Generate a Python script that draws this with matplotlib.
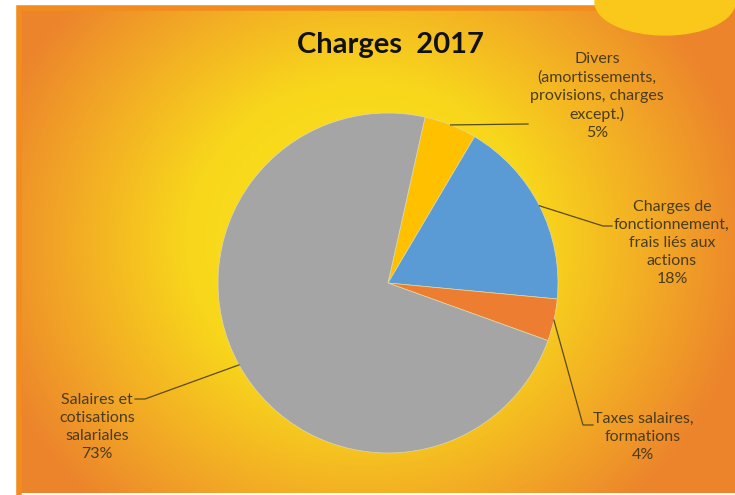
import matplotlib.pyplot as plt
import numpy as np
from matplotlib.colors import LinearSegmentedColormap
from matplotlib.patches import Ellipse

labels = ['Divers\n(amortissements,\nprovisions, charges\nexcept.)',
          'Charges de\nfonctionnement,\nfrais liés aux\nactions',
          'Taxes salaires,\nformations',
          'Salaires et\ncotisations\nsalariales']
values = [5, 18, 4, 73]
colors = ['#FFC000', '#5B9BD5', '#ED7D31', '#A5A5A5']
title = 'Charges  2017'

# label centre positions (px, y measured from the top) and elbow of the leader line
label_pos = [(597, 96), (672, 243), (643, 437), (97, 427)]
elbows = [[(528, 124)], [(603, 226), (612, 226)], [(583, 425), (593, 425)], [(145, 399), (135, 399)]]

W, H = 735, 495
txt_col = '#4A3C1C'

fig = plt.figure(figsize=(7.35, 4.95), dpi=100)
fig.patch.set_facecolor('white')
ax = fig.add_axes([0, 0, 1, 1])

# radial yellow -> orange background
yy, xx = np.mgrid[0:487, 0:718]
r = np.sqrt(((xx - 345) / 390.0) ** 2 + ((yy - 235) / 360.0) ** 2)
cmap = LinearSegmentedColormap.from_list('bg', [(0, '#FAE81A'), (0.45, '#F8D61C'),
                                                (0.75, '#F2AA25'), (1.0, '#EC842C')])
ax.imshow(np.clip(r, 0, 1), cmap=cmap, vmin=0, vmax=1, extent=(17, W, 2, H - 6),
          origin='upper', zorder=0, interpolation='bilinear')
# brighter orange strip along the top and left edges
ax.plot([19, 19, W], [2, H - 8, H - 8], color='#F38C1E', lw=4, zorder=0.5,
        solid_joinstyle='miter')

# decorative blob at top right
ax.add_patch(Ellipse((665, H - 2), 140, 66, color='#F9C81A', zorder=1))

cx, cy, rad = 388, H - 283, 170
wedges, _ = ax.pie(values, colors=colors, startangle=77.4, counterclock=False,
                   center=(cx, cy), radius=rad, frame=True,
                   wedgeprops=dict(edgecolor='#E0D8A8', linewidth=0.5))
ax.set_xlim(0, W)
ax.set_ylim(0, H)
ax.set_aspect('equal')
ax.axis('off')
for w in wedges:
    w.set_zorder(2)

for w, lab, val, (lx, ly), el in zip(wedges, labels, values, label_pos, elbows):
    mid = np.deg2rad((w.theta1 + w.theta2) / 2)
    xs = [cx + rad * np.cos(mid)] + [p[0] for p in el]
    ys = [cy + rad * np.sin(mid)] + [H - p[1] for p in el]
    ax.plot(xs, ys, color='#5A4A1A', lw=0.9, zorder=3)
    ax.text(lx, H - ly, f'{lab}\n{val}%', ha='center', va='center', fontsize=11.5,
            family='Lato', color=txt_col, linespacing=1.35, zorder=4)

ax.text(390, H - 45, title, ha='center', va='center', fontsize=21, fontweight='bold',
        family='Lato', color='#111111', zorder=4)

fig.savefig('out.png', dpi=100)
